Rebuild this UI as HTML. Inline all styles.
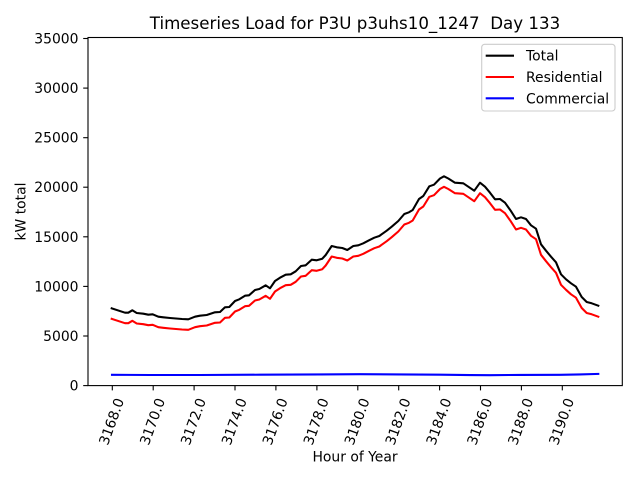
<!DOCTYPE html>
<html>
<head>
<meta charset="utf-8">
<style>
html,body{margin:0;padding:0;background:#fff;}
svg{display:block;font-family:"DejaVu Sans","Liberation Sans",sans-serif;}
text{white-space:pre;}
</style>
</head>
<body>
<svg width="640" height="480" viewBox="0 0 640 480" xmlns="http://www.w3.org/2000/svg">
<rect x="0" y="0" width="640" height="480" fill="#fff"/>

<!-- Series -->
<g fill="none" stroke-width="2.08" stroke-linejoin="round" stroke-linecap="square">
<polyline stroke="#0000ff" points="112,374.8 150,375 200,375 260,374.7 320,374.4 360,374.2 400,374.4 440,374.7 470,375.1 490,375.2 520,374.9 560,374.8 580,374.4 598.3,373.9"/>
<polyline stroke="#ff0000" transform="translate(0,10.5)" points="111.7,308.3 125,312.7 128.3,312.7 132.3,310.3 136.7,313 143.3,313.7 148.3,314.7 152.7,314.3 158.3,316.7 163.3,317.3 170,318 176,318.5 182,319 188.3,319.3 195,316.7 200,315.7 206.7,315 215,312.3 220,312 225,307.3 229.3,307 235,301 239.3,299.3 245,295.7 249,295.3 255,290 259.3,289 265.7,285.3 270,288.3 275,281 280,277.7 285.7,274.7 290.7,274.3 295.7,271.3 301,266 305.7,265.3 311.7,259.7 316.7,260.3 322.3,258.7 325.7,255 331.7,246 336.7,247.3 342.3,248 347.3,250 353.3,246 358.3,245.3 363.3,243.3 369,240.3 374.3,237.7 379.3,236 386.7,230.7 391.7,226.7 398.3,221 404.3,214 409,212.3 412.7,210 419,199 423.3,196 429.3,186.3 434,184.7 440,178.5 444,176.3 448.3,178.5 455,182.7 463.3,183.3 468.3,186.7 474.3,190.7 480,182.7 485,186.7 490,192.7 495,199.3 500,199 505,202.7 510.7,210.7 516,219 521,217.3 526,219 531,225.3 536,228.7 541,244.3 546,250.7 551,256.7 556,262.3 561,274.3 566,279.3 571,283.8 576,287.2 581.7,297.5 586.7,302.5 591.7,303.8 598.3,306.2"/>
<polyline stroke="#000000" points="111.7,308.3 125,312.7 128.3,312.7 132.3,310.3 136.7,313 143.3,313.7 148.3,314.7 152.7,314.3 158.3,316.7 163.3,317.3 170,318 176,318.5 182,319 188.3,319.3 195,316.7 200,315.7 206.7,315 215,312.3 220,312 225,307.3 229.3,307 235,301 239.3,299.3 245,295.7 249,295.3 255,290 259.3,289 265.7,285.3 270,288.3 275,281 280,277.7 285.7,274.7 290.7,274.3 295.7,271.3 301,266 305.7,265.3 311.7,259.7 316.7,260.3 322.3,258.7 325.7,255 331.7,246 336.7,247.3 342.3,248 347.3,250 353.3,246 358.3,245.3 363.3,243.3 369,240.3 374.3,237.7 379.3,236 386.7,230.7 391.7,226.7 398.3,221 404.3,214 409,212.3 412.7,210 419,199 423.3,196 429.3,186.3 434,184.7 440,178.5 444,176.3 448.3,178.5 455,182.7 463.3,183.3 468.3,186.7 474.3,190.7 480,182.7 485,186.7 490,192.7 495,199.3 500,199 505,202.7 510.7,210.7 516,219 521,217.3 526,219 531,225.3 536,228.7 541,244.3 546,250.7 551,256.7 556,262.3 561,274.3 566,279.3 571,283.3 576,286.7 581.7,297 586.7,302 591.7,303.3 598.3,305.7"/>
</g>

<!-- Axes frame -->
<rect x="88" y="37.5" width="534.3" height="348.1" fill="none" stroke="#000" stroke-width="1.1"/>

<!-- Y ticks -->
<g stroke="#000" stroke-width="1.1">
<line x1="83.2" y1="385.6" x2="88" y2="385.6"/>
<line x1="83.2" y1="336.0" x2="88" y2="336.0"/>
<line x1="83.2" y1="286.4" x2="88" y2="286.4"/>
<line x1="83.2" y1="236.8" x2="88" y2="236.8"/>
<line x1="83.2" y1="187.2" x2="88" y2="187.2"/>
<line x1="83.2" y1="137.7" x2="88" y2="137.7"/>
<line x1="83.2" y1="88.1" x2="88" y2="88.1"/>
<line x1="83.2" y1="38.5" x2="88" y2="38.5"/>
</g>
<g font-size="13.9" fill="#000" text-anchor="end">
<text x="78.5" y="390.6">0</text>
<text x="78.5" y="341.0">5000</text>
<text x="78.5" y="291.4">10000</text>
<text x="78.5" y="241.8">15000</text>
<text x="78.5" y="192.2">20000</text>
<text x="78.5" y="142.7">25000</text>
<text x="78.5" y="93.1">30000</text>
<text x="78.5" y="43.5">35000</text>
</g>

<!-- X ticks -->
<g stroke="#000" stroke-width="1.1">
<line x1="112.3" y1="385.6" x2="112.3" y2="390.4"/>
<line x1="153.2" y1="385.6" x2="153.2" y2="390.4"/>
<line x1="194.1" y1="385.6" x2="194.1" y2="390.4"/>
<line x1="235.0" y1="385.6" x2="235.0" y2="390.4"/>
<line x1="275.9" y1="385.6" x2="275.9" y2="390.4"/>
<line x1="316.9" y1="385.6" x2="316.9" y2="390.4"/>
<line x1="357.8" y1="385.6" x2="357.8" y2="390.4"/>
<line x1="398.7" y1="385.6" x2="398.7" y2="390.4"/>
<line x1="439.6" y1="385.6" x2="439.6" y2="390.4"/>
<line x1="480.5" y1="385.6" x2="480.5" y2="390.4"/>
<line x1="521.4" y1="385.6" x2="521.4" y2="390.4"/>
<line x1="562.3" y1="385.6" x2="562.3" y2="390.4"/>
</g>
<g font-size="13.9" fill="#000" text-anchor="middle">
<text transform="translate(111.3,421.5) rotate(-70)" dy="0.36em">3168.0</text>
<text transform="translate(152.2,421.5) rotate(-70)" dy="0.36em">3170.0</text>
<text transform="translate(193.1,421.5) rotate(-70)" dy="0.36em">3172.0</text>
<text transform="translate(234.0,421.5) rotate(-70)" dy="0.36em">3174.0</text>
<text transform="translate(274.9,421.5) rotate(-70)" dy="0.36em">3176.0</text>
<text transform="translate(315.9,421.5) rotate(-70)" dy="0.36em">3178.0</text>
<text transform="translate(356.8,421.5) rotate(-70)" dy="0.36em">3180.0</text>
<text transform="translate(397.7,421.5) rotate(-70)" dy="0.36em">3182.0</text>
<text transform="translate(438.6,421.5) rotate(-70)" dy="0.36em">3184.0</text>
<text transform="translate(479.5,421.5) rotate(-70)" dy="0.36em">3186.0</text>
<text transform="translate(520.4,421.5) rotate(-70)" dy="0.36em">3188.0</text>
<text transform="translate(561.3,421.5) rotate(-70)" dy="0.36em">3190.0</text>
</g>

<!-- Axis labels -->
<text x="355" y="461.7" font-size="13.9" text-anchor="middle" fill="#000">Hour of Year</text>
<text transform="translate(25.5,211.5) rotate(-90)" font-size="13.9" text-anchor="middle" fill="#000">kW total</text>

<!-- Title -->
<text x="355" y="29" font-size="16.67" text-anchor="middle" fill="#000">Timeseries Load for P3U p3uhs10_1247  Day 133</text>

<!-- Legend -->
<rect x="481.7" y="44.3" width="133.3" height="66.7" rx="3" ry="3" fill="#fff" fill-opacity="0.8" stroke="#cccccc" stroke-width="1.1"/>
<g stroke-width="2.08">
<line x1="485.7" y1="55.7" x2="514" y2="55.7" stroke="#000"/>
<line x1="485.7" y1="77" x2="514" y2="77" stroke="#ff0000"/>
<line x1="485.7" y1="98.3" x2="514" y2="98.3" stroke="#0000ff"/>
</g>
<g font-size="13.9" fill="#000">
<text x="526" y="60.7">Total</text>
<text x="526" y="82">Residential</text>
<text x="526" y="103.3">Commercial</text>
</g>
</svg>
</body>
</html>
